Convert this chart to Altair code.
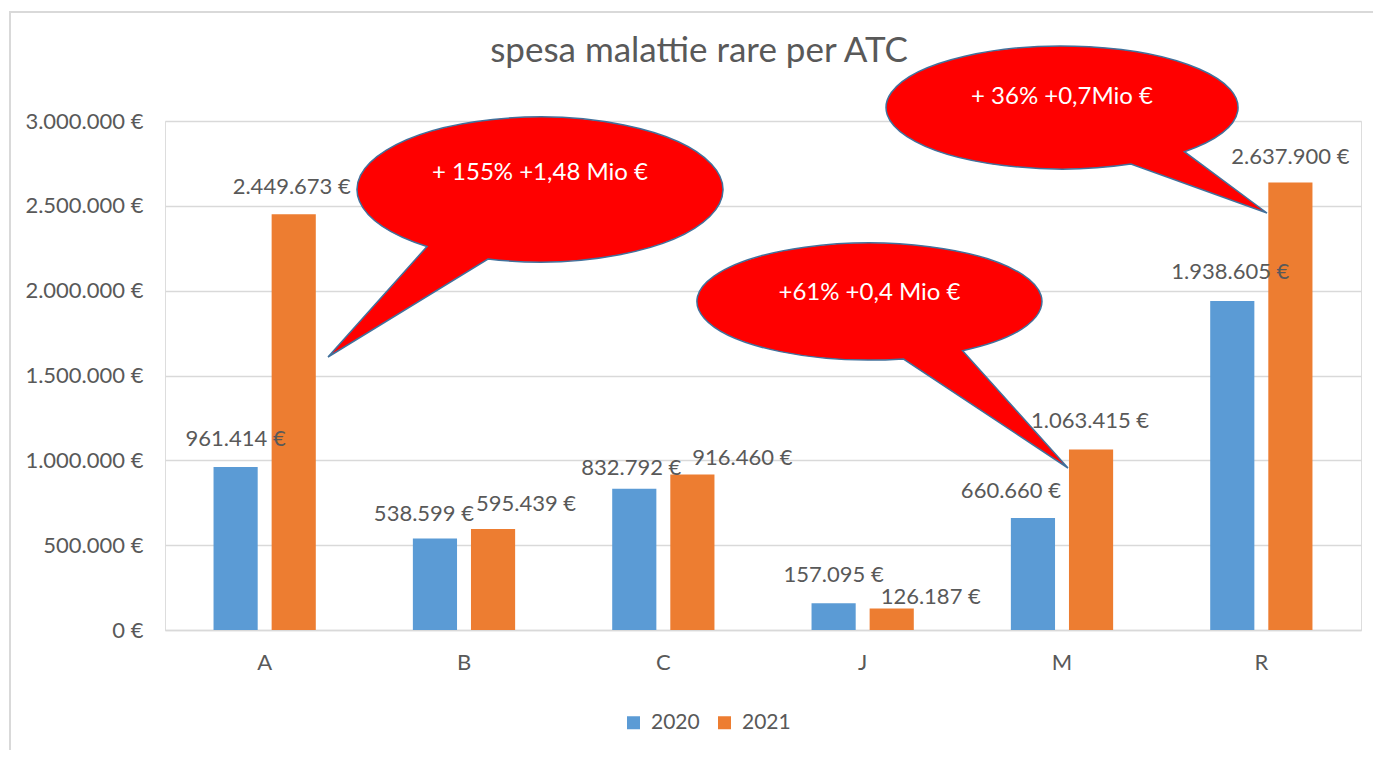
import math
import altair as alt
import pandas as pd

# ---- data ----
categories = ["A", "B", "C", "J", "M", "R"]
spesa_2020 = [961414, 538599, 832792, 157095, 660660, 1938605]
spesa_2021 = [2449673, 595439, 916460, 126187, 1063415, 2637900]
years = ["2020", "2021"]
y_ticks = [0, 500000, 1000000, 1500000, 2000000, 2500000, 3000000]
title_text = "spesa malattie rare per ATC"
callout_texts = ["+ 155% +1,48 Mio €", "+61% +0,4 Mio €", "+ 36% +0,7Mio €"]

# ---- label nudges (pixels) as placed in the original chart ----
label_dx_2020 = [0, -11, -3, 0, -22, -2]
label_dy_2020 = [-28, -25, -21, -28, -27, -29]
label_dx_2021 = [-2, 33, 50, 39, -1, 0]
label_dy_2021 = [-27, -25, -17, -12, -29, -25]

# ---- layout / style (pixels, relative to plot area) ----
W, H = 1196, 509
PL, PT = 157, 113
FONT = "Lato"
GREY = "#595959"
GRID = "#D9D9D9"
BLUE, ORANGE = "#5B9BD5", "#ED7D31"

def it_fmt(v):
    return f"{v:,}".replace(",", ".") + " €"

rows = []
for i, c in enumerate(categories):
    rows.append({"cat": c, "anno": years[0], "valore": spesa_2020[i],
                 "label": it_fmt(spesa_2020[i]), "dx": label_dx_2020[i], "dy": label_dy_2020[i]})
    rows.append({"cat": c, "anno": years[1], "valore": spesa_2021[i],
                 "label": it_fmt(spesa_2021[i]), "dx": label_dx_2021[i], "dy": label_dy_2021[i]})
df = pd.DataFrame(rows)

x_enc = alt.X("cat:N", sort=categories,
              scale=alt.Scale(paddingInner=0.487, paddingOuter=0.2435),
              axis=alt.Axis(title=None, labelAngle=0, ticks=False, domain=True,
                            domainColor=GRID, domainWidth=1.5,
                            labelFont=FONT, labelFontSize=22, labelColor=GREY,
                            labelPadding=22))
y_enc = alt.Y("valore:Q", scale=alt.Scale(domain=[0, 3000000], nice=False),
              axis=alt.Axis(title=None, values=y_ticks, ticks=False, domain=False,
                            grid=True, gridColor=GRID, gridWidth=1.5,
                            labelFont=FONT, labelFontSize=22, labelColor=GREY,
                            labelPadding=22,
                            labelExpr="replace(replace(format(datum.value, ','), ',', '.'), ',', '.') + ' €'"))
xoff = alt.XOffset("anno:N", sort=years,
                   scale=alt.Scale(paddingInner=0.24, paddingOuter=0))

bars = alt.Chart(df).mark_bar().encode(
    x=x_enc, y=y_enc, xOffset=xoff,
    color=alt.Color("anno:N", sort=years,
                    scale=alt.Scale(domain=years, range=[BLUE, ORANGE]),
                    legend=alt.Legend(title=None, orient="none", direction="horizontal",
                                      legendX=458, legendY=591,
                                      symbolType="square", symbolSize=169,
                                      symbolStrokeWidth=0,
                                      labelFont=FONT, labelFontSize=21,
                                      labelColor=GREY, labelOffset=7,
                                      columnPadding=14)),
)

layers = [bars]
for r in rows:
    lab = alt.Chart(df).transform_filter(
        (alt.datum.cat == r["cat"]) & (alt.datum.anno == r["anno"])
    ).mark_text(font=FONT, fontSize=22, color=GREY, baseline="middle",
                dx=r["dx"], dy=r["dy"]).encode(
        x=alt.X("cat:N", sort=categories), y="valore:Q", xOffset=xoff,
        text="label:N",
    )
    layers.append(lab)

# ---- callouts (speech bubbles) ----
# centre (page px), rx, ry, tail base points and tip relative to centre, text y
callouts = [
    dict(cx=540, cy=189.5, rx=183, ry=72.5, b1=(-52, 69.5), b2=(-112, 56.5), tip=(-212, 167.5), ty=173),
    dict(cx=869.5, cy=301.5, rx=172.5, ry=58.5, b1=(35.5, 60.5), b2=(95.5, 50.5), tip=(198.5, 166.5), ty=293),
    dict(cx=1062, cy=107.5, rx=176, ry=61.5, b1=(70, 57.5), b2=(126, 45.5), tip=(205, 105.5), ty=97),
]

def bubble_path(c):
    rx, ry = c["rx"], c["ry"]
    ts = [math.atan2(py / ry, px / rx) for (px, py) in (c["b1"], c["b2"])]
    ta, tb = sorted(ts)
    pa = (rx * math.cos(ta), ry * math.sin(ta))
    pb = (rx * math.cos(tb), ry * math.sin(tb))
    tx, ty = c["tip"]
    return (f"M {pb[0]:.2f} {pb[1]:.2f} A {rx} {ry} 0 1 1 {pa[0]:.2f} {pa[1]:.2f} "
            f"L {tx} {ty} Z")

for c, txt in zip(callouts, callout_texts):
    src = pd.DataFrame({"t": [txt]})
    bub = alt.Chart(src).mark_point(
        shape=bubble_path(c), size=4, filled=True, fill="#FF0000", fillOpacity=1,
        stroke="#41719C", strokeWidth=1.5, opacity=1,
    ).encode(x=alt.value(c["cx"] - 8 - PL), y=alt.value(c["cy"] - 8 - PT))
    tx = alt.Chart(src).mark_text(font=FONT, fontSize=24, color="white",
                                  baseline="middle", align="center").encode(
        x=alt.value(c["cx"] - 8 - PL), y=alt.value(c["ty"] - 8 - PT), text="t:N")
    layers += [bub, tx]

title_src = pd.DataFrame({"t": [title_text]})
title = alt.Chart(title_src).mark_text(font=FONT, fontSize=35, color=GREY,
                                       baseline="alphabetic", align="center").encode(
    x=alt.value(699 - 8 - PL), y=alt.value(62 - 8 - PT), text="t:N")

border = alt.Chart(title_src).mark_rect(fill=None, stroke="#D9D9D9", strokeWidth=2).encode(
    x=alt.value(10 - 8 - PL), x2=alt.value(1500), y=alt.value(12 - 8 - PT), y2=alt.value(900))

chart = alt.layer(border, *layers, title).properties(
    width=W, height=H,
    autosize=alt.AutoSizeParams(type="none"),
    padding={"left": PL, "top": PT, "right": 12, "bottom": 120},
).configure_view(stroke=None).configure(background="white")

chart.save("out.html", embed_options={"renderer": "svg", "actions": False})
